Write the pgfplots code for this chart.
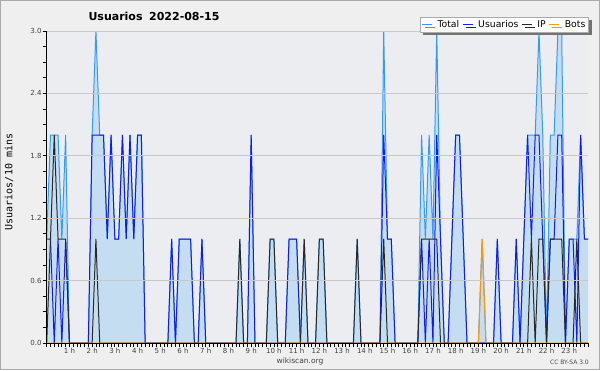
\documentclass[border=0pt]{standalone}
\usepackage{fontspec}
\setmainfont{DejaVu Sans}
\newfontfamily\monofont{DejaVu Sans Mono}
\usepackage{pgfplots}
\usepackage{pgfplotstable}
\pgfplotsset{compat=1.18}
\usetikzlibrary{shadows}

\definecolor{outerbg}{RGB}{239,239,239}
\definecolor{plotbg}{RGB}{236,237,240}
\definecolor{gridc}{RGB}{200,200,202}
\definecolor{fillc}{RGB}{197,221,240}
\definecolor{totalc}{RGB}{51,153,255}
\definecolor{userc}{RGB}{16,24,255}
\definecolor{ipc}{RGB}{40,40,40}
\definecolor{botc}{RGB}{255,150,0}
\definecolor{borderc}{RGB}{170,170,170}

\pgfplotstableread{
i T U IP B
0 1 1 0 0
1 2 1 1 0
2 2 0 2 0
3 2 1 1 0
4 1 0 1 0
5 2 1 1 0
6 0 0 0 0
7 0 0 0 0
8 0 0 0 0
9 0 0 0 0
10 0 0 0 0
11 0 0 0 0
12 2 2 0 0
13 3 2 1 0
14 2 2 0 0
15 2 2 0 0
16 1 1 0 0
17 2 2 0 0
18 1 1 0 0
19 1 1 0 0
20 2 2 0 0
21 1 1 0 0
22 2 2 0 0
23 1 1 0 0
24 2 2 0 0
25 2 2 0 0
26 0 0 0 0
27 0 0 0 0
28 0 0 0 0
29 0 0 0 0
30 0 0 0 0
31 0 0 0 0
32 0 0 0 0
33 1 1 0 0
34 0 0 0 0
35 1 1 0 0
36 1 1 0 0
37 1 1 0 0
38 1 1 0 0
39 0 0 0 0
40 0 0 0 0
41 1 1 0 0
42 0 0 0 0
43 0 0 0 0
44 0 0 0 0
45 0 0 0 0
46 0 0 0 0
47 0 0 0 0
48 0 0 0 0
49 0 0 0 0
50 0 0 0 0
51 1 0 1 0
52 0 0 0 0
53 0 0 0 0
54 2 2 0 0
55 0 0 0 0
56 0 0 0 0
57 0 0 0 0
58 0 0 0 0
59 1 0 1 0
60 1 0 1 0
61 0 0 0 0
62 0 0 0 0
63 0 0 0 0
64 1 1 0 0
65 1 1 0 0
66 1 1 0 0
67 0 0 0 0
68 1 0 1 0
69 0 0 0 0
70 0 0 0 0
71 0 0 0 0
72 1 0 1 0
73 1 0 1 0
74 0 0 0 0
75 0 0 0 0
76 0 0 0 0
77 0 0 0 0
78 0 0 0 0
79 0 0 0 0
80 0 0 0 0
81 0 0 0 0
82 1 0 1 0
83 0 0 0 0
84 0 0 0 0
85 0 0 0 0
86 0 0 0 0
87 0 0 0 0
88 0 0 0 0
89 3 2 1 0
90 1 1 0 0
91 1 1 0 0
92 0 0 0 0
93 0 0 0 0
94 0 0 0 0
95 0 0 0 0
96 0 0 0 0
97 0 0 0 0
98 0 0 0 0
99 2 1 1 0
100 1 0 1 0
101 2 1 1 0
102 1 0 1 0
103 3 2 1 0
104 1 1 0 0
105 0 0 0 0
106 0 0 0 0
107 1 1 0 0
108 2 2 0 0
109 2 2 0 0
110 1 1 0 0
111 0 0 0 0
112 0 0 0 0
113 0 0 0 0
114 0 0 0 0
115 1 0 0 1
116 0 0 0 0
117 0 0 0 0
118 0 0 0 0
119 1 1 0 0
120 0 0 0 0
121 0 0 0 0
122 0 0 0 0
123 0 0 0 0
124 1 1 0 0
125 0 0 0 0
126 1 1 0 0
127 2 2 0 0
128 2 1 1 0
129 2 2 0 0
130 3 2 1 0
131 2 1 1 0
132 0 0 0 0
133 2 1 1 0
134 2 1 1 0
135 3 2 1 0
136 3 2 1 0
137 0 0 0 0
138 1 1 0 0
139 1 1 0 0
140 1 0 1 0
141 2 2 0 0
142 1 1 0 0
143 1 1 0 0
}\datatable

\begin{document}
\begin{tikzpicture}[x=1pt,y=1pt]
\fill[outerbg] (-46.7,-27) rectangle (553.3,343);
\path[use as bounding box] (-46.7,-27) rectangle (553.3,343);
\draw[borderc, line width=1.5] (-45.95,-26.25) rectangle (552.55,342.25);
\begin{axis}[
  at={(0,0)}, anchor=south west,
  scale only axis, width=541.5pt, height=312pt,
  xmin=0, xmax=143, ymin=0, ymax=3,
  axis background/.style={fill=plotbg},
  axis lines*=left,
  axis line style={black, line width=1pt},
  xtick={6,12,...,138},
  xticklabels={1 h,2 h,3 h,4 h,5 h,6 h,7 h,8 h,9 h,10 h,11 h,12 h,13 h,14 h,15 h,16 h,17 h,18 h,19 h,20 h,21 h,22 h,23 h},
  minor xtick={0,1,...,143},
  ytick={0,0.6,1.2,1.8,2.4,3},
  yticklabels={0.0,0.6,1.2,1.8,2.4,3.0},
  minor y tick num=3,
  tick align=outside,
  major tick length=4pt, minor tick length=4pt,
  tick style={black, line width=0.8pt},
  ymajorgrids, grid style={gridc, line width=0.8pt},
  tick label style={font=\fontsize{7}{8}\selectfont, text=black!75},
  xticklabel style={inner sep=0.5pt},
  yticklabel style={inner sep=1pt},
  /pgf/number format/assume math mode=true,
  axis on top,
  legend columns=4,
  legend style={at={(1.001,1.045)}, anchor=north east, draw=borderc, fill=white,
    font=\fontsize{9.3}{10}\selectfont, inner sep=1.2pt,
    drop shadow={shadow xshift=3pt, shadow yshift=-3pt, fill=black!55, opacity=1},
    /tikz/every odd column/.append style={column sep=3pt},
    /tikz/every even column/.append style={column sep=1pt}},
  legend image code/.code={\draw[#1, line width=1pt] (0pt,0pt) -- (10pt,0pt);},
]
\addplot[draw=none, fill=fillc, forget plot] table[x=i,y=T]{\datatable} \closedcycle;
\addplot[totalc, line width=1pt] table[x=i,y=T]{\datatable};
\addlegendentry{Total}
\addplot[userc, line width=1pt] table[x=i,y=U]{\datatable};
\addlegendentry{Usuarios}
\addplot[ipc, line width=1pt] table[x=i,y=IP]{\datatable};
\addlegendentry{IP}
\addplot[botc, line width=1pt] table[x=i,y=B]{\datatable};
\addlegendentry{Bots}
\end{axis}
\node[anchor=base west, font=\bfseries\fontsize{11}{12}\selectfont] at (38.3,322.3) {Usuarios\hspace{0.6em}2022-08-15};
\node[rotate=90, font=\monofont\fontsize{10}{11}\selectfont] at (-37.7,161) {Usuarios/10 mins};
\node[font=\fontsize{7.5}{8}\selectfont, text=black!75] at (253.3,-18) {wikiscan.org};
\node[anchor=east, font=\fontsize{6}{7}\selectfont, text=black!70, inner sep=0pt] at (542.3,-19) {CC BY-SA 3.0};
\end{tikzpicture}
\end{document}
